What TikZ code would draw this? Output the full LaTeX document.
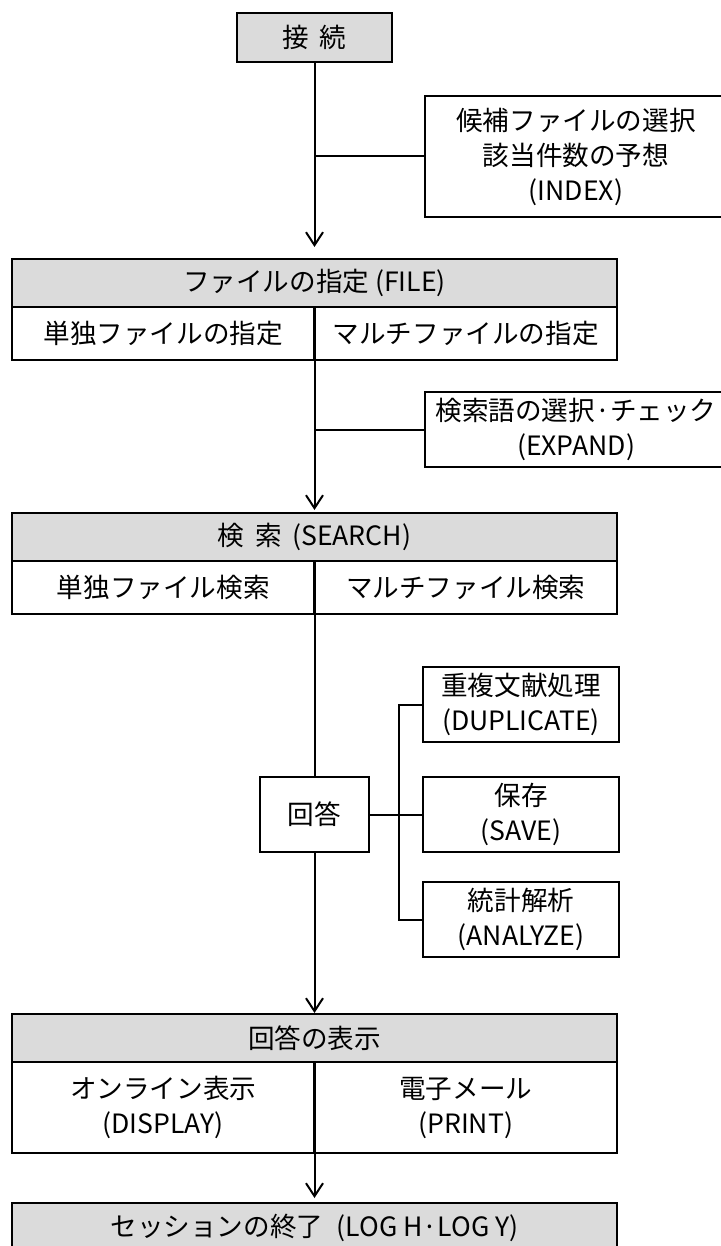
\documentclass[tikz,border=0pt]{standalone}
\usepackage{fontspec}
\setmainfont{Noto Sans CJK JP}
\usetikzlibrary{arrows.meta,positioning}

\begin{document}
\begin{tikzpicture}[x=0.5pt, y=-0.5pt,
    font=\fontsize{13.3pt}{17.5pt}\selectfont,
    box/.style={rectangle, draw, line width=1.2pt, align=center, inner sep=0pt, outer sep=0pt},
    head/.style={box, fill=gray!28, minimum width=302.5pt, minimum height=24pt},
    cell/.style={box, minimum width=151.25pt, minimum height=26.5pt},
    side/.style={box, minimum width=98pt, minimum height=37.5pt},
    flow/.style={line width=1pt},
    arr/.style={flow, -{Straight Barb[length=6.5pt, width=8.5pt, line width=1pt]}}]
            \useasboundingbox (0,0) rectangle (720,1246);
            \node (conn) [box, fill=gray!28, minimum width=77.5pt, minimum height=24.5pt] at (314.5,37.5) {接\hspace{0.4em}続};
            \node (index) [box, minimum width=151pt, minimum height=60.5pt, below right=17pt and 16.5pt of conn.south east] {候補ファイルの選択\\該当件数の予想\\(INDEX)};
            \node (file) [head, below=98.5pt of conn] {ファイルの指定 (FILE)};
            \node (filea) [cell, below right=0pt of file.south west] {単独ファイルの指定};
            \node (fileb) [cell, below left=0pt of file.south east] {マルチファイルの指定};
            \node (expand) [box, minimum width=151pt, minimum height=37.5pt, below=87.5pt of index] {検索語の選択·チェック\\(EXPAND)};
            \node (search) [head, below=103pt of file] {検\hspace{0.4em}索\hspace{0.4em}(SEARCH)};
            \node (searcha) [cell, below right=0pt of search.south west] {単独ファイル検索};
            \node (searchb) [cell, below left=0pt of search.south east] {マルチファイル検索};
            \node (ans) [box, minimum width=54.5pt, minimum height=37.5pt, below=108pt of search] {回答};
            \node (save) [side, right=27pt of ans] {保存\\(SAVE)};
            \node (dup) [side, above=17.5pt of save] {重複文献処理\\(DUPLICATE)};
            \node (ana) [side, below=15pt of save] {統計解析\\(ANALYZE)};
            \coordinate [left=12pt of save.west] (fork);
            \node (disp) [head, below=81pt of ans] {回答の表示};
            \node (dispa) [cell, minimum height=45.5pt, below right=0pt of disp.south west] {オンライン表示\\(DISPLAY)};
            \node (dispb) [cell, minimum height=45.5pt, below left=0pt of disp.south east] {電子メール\\(PRINT)};
            \node (endsess) [head, minimum height=25pt, below=70.5pt of disp] {セッションの終了\hspace{0.5em}(LOG H·LOG Y)};

            \draw [arr, shorten >=6pt] (conn) -- (file);
            \draw [flow] (index.west) -- (conn |- index.west);
            \draw [arr, shorten >=1.5pt] (filea.south east) -- (search);
            \draw [flow] (expand.west) -- (file |- expand.west);
            \draw [flow] (searcha.south east) -- (ans);
            \draw [flow] (ans) -- (save);
            \draw [flow] (dup.west) -| (fork) |- (ana.west);
            \draw [arr, shorten >=0.5pt] (ans) -- (disp);
            \draw [arr, shorten >=2.5pt] (dispa.south east) -- (endsess);
\end{tikzpicture}
\end{document}
